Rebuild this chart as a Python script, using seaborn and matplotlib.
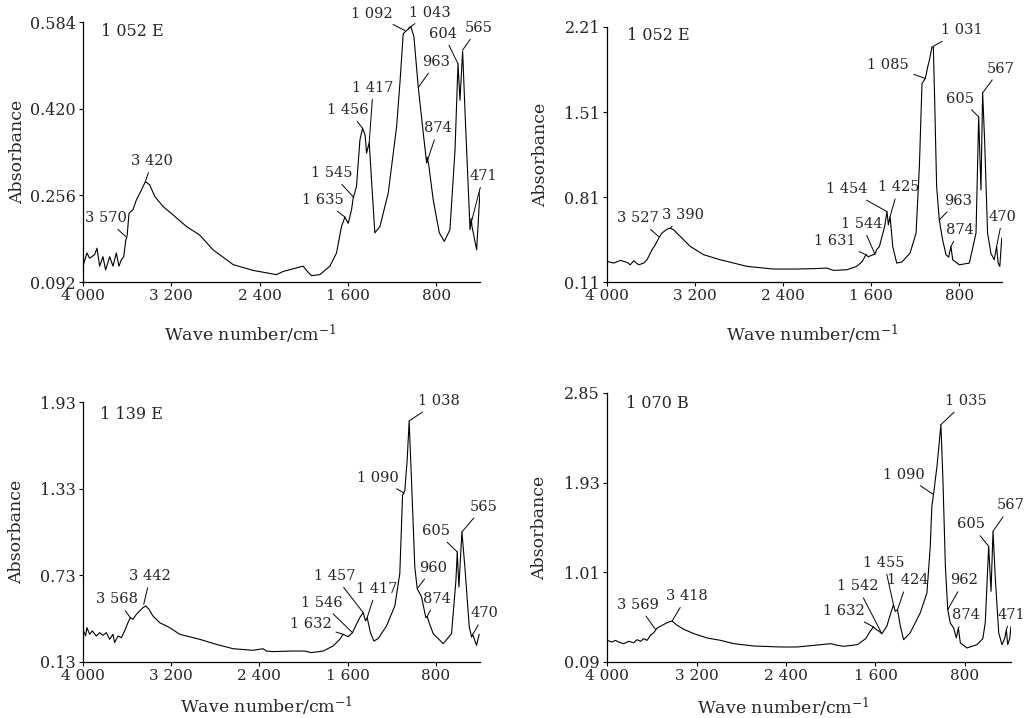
import matplotlib
matplotlib.use("Agg")
import matplotlib.pyplot as plt
import seaborn as sns
import pandas as pd

sns.set_style("ticks")
plt.rcParams['font.family'] = ['DejaVu Serif']
plt.rcParams['mathtext.fontset'] = 'dejavuserif'

# ---- spectra (wave number, absorbance) ----
wn_1 = [4000, 3964, 3940, 3894, 3873, 3849, 3819, 3795, 3758, 3728,
        3698, 3674, 3653, 3631, 3613, 3600, 3583, 3547, 3517, 3471,
        3435, 3396, 3350, 3275, 3184, 3063, 2943, 2822, 2640, 2459,
        2248, 2187, 2097, 2006, 1976, 1931, 1855, 1764, 1704, 1659,
        1628, 1598, 1568, 1553, 1523, 1492, 1468, 1445, 1432, 1408,
        1387, 1357, 1311, 1236, 1160, 1130, 1100, 1070, 1030, 1003,
        964, 918, 888, 882, 870, 828, 773, 728, 677, 631,
        604, 586, 562, 541, 495, 484, 478, 435, 405]
ab_1 = [0.122, 0.147, 0.137, 0.144, 0.156, 0.122, 0.140, 0.115, 0.140, 0.122,
        0.147, 0.122, 0.134, 0.140, 0.170, 0.180, 0.222, 0.229, 0.247, 0.266,
        0.282, 0.276, 0.254, 0.235, 0.219, 0.197, 0.181, 0.153, 0.125, 0.114,
        0.106, 0.112, 0.117, 0.122, 0.114, 0.104, 0.106, 0.122, 0.147, 0.197,
        0.215, 0.203, 0.229, 0.251, 0.273, 0.361, 0.383, 0.370, 0.336, 0.356,
        0.285, 0.185, 0.197, 0.260, 0.386, 0.468, 0.562, 0.568, 0.575, 0.556,
        0.461, 0.373, 0.317, 0.328, 0.315, 0.247, 0.185, 0.169, 0.191, 0.342,
        0.505, 0.436, 0.529, 0.417, 0.191, 0.212, 0.198, 0.153, 0.263]

wn_2 = [4000, 3939, 3879, 3818, 3788, 3758, 3712, 3667, 3637, 3591,
        3561, 3525, 3501, 3455, 3425, 3395, 3334, 3243, 3122, 2971,
        2910, 2729, 2487, 2275, 2123, 2002, 1942, 1821, 1730, 1680,
        1646, 1625, 1595, 1565, 1550, 1524, 1477, 1455, 1443, 1427,
        1403, 1367, 1320, 1246, 1191, 1161, 1137, 1107, 1085, 1070,
        1046, 1034, 1022, 1004, 980, 950, 919, 895, 874, 858,
        797, 707, 646, 622, 601, 586, 568, 541, 511, 481,
        459, 445, 430, 412]
ab_2 = [0.280, 0.266, 0.288, 0.272, 0.252, 0.285, 0.252, 0.266, 0.293, 0.376,
        0.417, 0.480, 0.513, 0.545, 0.554, 0.540, 0.485, 0.403, 0.335, 0.293,
        0.280, 0.239, 0.217, 0.217, 0.220, 0.225, 0.206, 0.211, 0.239, 0.280,
        0.335, 0.318, 0.330, 0.340, 0.375, 0.403, 0.567, 0.690, 0.581, 0.649,
        0.403, 0.266, 0.275, 0.348, 0.513, 1.060, 1.745, 1.786, 1.882, 1.936,
        2.046, 2.046, 1.608, 0.896, 0.622, 0.458, 0.335, 0.315, 0.403, 0.293,
        0.252, 0.266, 0.513, 1.471, 0.868, 1.668, 1.279, 0.513, 0.348, 0.293,
        0.403, 0.266, 0.239, 0.471]

wn_3 = [4000, 3976, 3964, 3940, 3915, 3879, 3849, 3819, 3788, 3758,
        3728, 3713, 3682, 3652, 3622, 3592, 3570, 3546, 3516, 3486,
        3456, 3431, 3401, 3365, 3304, 3214, 3123, 2941, 2790, 2639,
        2457, 2367, 2336, 2276, 2094, 1989, 1928, 1822, 1731, 1671,
        1641, 1595, 1556, 1520, 1490, 1459, 1438, 1423, 1393, 1362,
        1323, 1248, 1172, 1127, 1102, 1081, 1060, 1042,
        1021, 991, 969, 930, 891, 879, 860, 824, 733, 658,
        618, 606, 591, 564, 537, 497, 476, 466, 431, 407]
ab_3 = [0.356, 0.310, 0.368, 0.322, 0.345, 0.310, 0.333, 0.315, 0.333, 0.287,
        0.322, 0.264, 0.310, 0.298, 0.345, 0.402, 0.437, 0.425, 0.460, 0.483,
        0.506, 0.518, 0.495, 0.448, 0.402, 0.368, 0.322, 0.287, 0.252, 0.222,
        0.211, 0.222, 0.206, 0.202, 0.206, 0.206, 0.195, 0.206, 0.241, 0.287,
        0.322, 0.305, 0.333, 0.391, 0.437, 0.472, 0.414, 0.437, 0.333, 0.275,
        0.292, 0.379, 0.518, 0.742, 1.284, 1.318, 1.533, 1.799,
        1.388, 0.788, 0.638, 0.580, 0.437, 0.445, 0.400, 0.326, 0.257, 0.326,
        0.695, 0.892, 0.649, 1.030, 0.788, 0.372, 0.303, 0.320, 0.245, 0.322]

wn_4 = [4000, 3955, 3925, 3896, 3851, 3806, 3761, 3731, 3701, 3672,
        3642, 3612, 3582, 3552, 3507, 3463, 3418, 3373, 3313, 3224,
        3104, 2985, 2866, 2687, 2448, 2299, 2149, 2000, 1940, 1881,
        1761, 1687, 1650, 1618, 1590, 1573, 1543, 1499, 1463, 1439,
        1424, 1403, 1379, 1349, 1290, 1200, 1140, 1110, 1096, 1081,
        1050, 1015, 997, 975, 954, 931, 901, 877, 859, 841,
        782, 693, 640, 618, 588, 567, 549, 528, 498, 469,
        445, 430, 418, 400, 388]
ab_4 = [0.312, 0.295, 0.312, 0.295, 0.278, 0.302, 0.288, 0.319, 0.302, 0.329,
        0.312, 0.364, 0.391, 0.439, 0.466, 0.494, 0.511, 0.466, 0.425, 0.381,
        0.336, 0.312, 0.278, 0.254, 0.244, 0.244, 0.261, 0.278, 0.261, 0.251,
        0.268, 0.330, 0.400, 0.450, 0.420, 0.410, 0.380, 0.456, 0.593, 0.678,
        0.610, 0.627, 0.466, 0.319, 0.388, 0.593, 0.798, 1.277, 1.687, 1.807,
        2.100, 2.525, 1.961, 1.071, 0.627, 0.490, 0.439, 0.336, 0.439, 0.285,
        0.234, 0.268, 0.330, 0.500, 1.277, 0.815, 1.431, 0.935, 0.388, 0.268,
        0.330, 0.420, 0.268, 0.330, 0.456]

samples = ["1 052 E", "1 052 E", "1 139 E", "1 070 B"]
yticks_all = [[0.092, 0.256, 0.420, 0.584],
              [0.11, 0.81, 1.51, 2.21],
              [0.13, 0.73, 1.33, 1.93],
              [0.09, 1.01, 1.93, 2.85]]
ytick_fmt = ["{:.3f}", "{:.2f}", "{:.2f}", "{:.2f}"]
xticks = [4000, 3200, 2400, 1600, 800]
xtick_labels = ["4 000", "3 200", "2 400", "1 600", "800"]

# peak labels: (label, peak wn, peak A, text wn, text A)
peaks_1 = [("3 570", 3613, 0.178, 3795, 0.213), ("3 420", 3435, 0.282, 3372, 0.321),
           ("1 635", 1628, 0.215, 1825, 0.247), ("1 545", 1547, 0.252, 1749, 0.298),
           ("1 456", 1468, 0.383, 1598, 0.417), ("1 417", 1408, 0.356, 1372, 0.460),
           ("1 092", 1085, 0.568, 1387, 0.600), ("1 043", 1054, 0.572, 858, 0.602),
           ("963", 964, 0.460, 798, 0.509), ("874", 879, 0.323, 783, 0.383),
           ("604", 604, 0.505, 737, 0.562), ("565", 562, 0.531, 420, 0.573),
           ("471", 481, 0.207, 375, 0.293)]
peaks_2 = [("3 527", 3525, 0.480, 3721, 0.636), ("3 390", 3425, 0.554, 3310, 0.663),
           ("1 631", 1646, 0.335, 1927, 0.450), ("1 544", 1565, 0.340, 1685, 0.589),
           ("1 454", 1455, 0.690, 1821, 0.874), ("1 425", 1427, 0.649, 1352, 0.890),
           ("1 085", 1107, 1.786, 1443, 1.895), ("1 031", 1036, 2.050, 777, 2.183),
           ("963", 980, 0.622, 807, 0.781), ("874", 874, 0.403, 792, 0.540),
           ("605", 622, 1.471, 792, 1.621), ("567", 586, 1.668, 422, 1.868),
           ("470", 459, 0.403, 404, 0.649)]
peaks_3 = [("3 568", 3570, 0.437, 3691, 0.564), ("3 442", 3449, 0.529, 3389, 0.725),
           ("1 632", 1641, 0.322, 1937, 0.391), ("1 546", 1556, 0.333, 1837, 0.541),
           ("1 457", 1459, 0.472, 1716, 0.725), ("1 417", 1423, 0.437, 1338, 0.638),
           ("1 090", 1090, 1.300, 1323, 1.406), ("1 038", 1042, 1.799, 770, 1.937),
           ("960", 969, 0.638, 824, 0.783), ("874", 879, 0.445, 794, 0.568),
           ("605", 606, 0.892, 803, 1.037), ("565", 564, 1.030, 370, 1.205),
           ("470", 466, 0.320, 355, 0.467)]
peaks_4 = [("3 569", 3567, 0.425, 3725, 0.678), ("3 418", 3418, 0.511, 3284, 0.767),
           ("1 632", 1618, 0.450, 1881, 0.613), ("1 542", 1543, 0.380, 1761, 0.866),
           ("1 455", 1439, 0.678, 1522, 1.109), ("1 424", 1403, 0.627, 1313, 0.928),
           ("1 090", 1081, 1.807, 1343, 2.012), ("1 035", 1015, 2.525, 791, 2.768),
           ("962", 954, 0.627, 806, 0.928), ("874", 859, 0.439, 791, 0.569),
           ("605", 588, 1.277, 746, 1.502), ("567", 549, 1.431, 388, 1.697),
           ("471", 430, 0.420, 388, 0.576)]

spectra = [(wn_1, ab_1), (wn_2, ab_2), (wn_3, ab_3), (wn_4, ab_4)]
peaks = [peaks_1, peaks_2, peaks_3, peaks_4]

# layout (figure fractions) and x limits per panel
rects = [[0.0807, 0.6072, 0.3862, 0.3621],
         [0.5905, 0.6072, 0.3842, 0.3552],
         [0.0807, 0.0780, 0.3862, 0.3621],
         [0.5905, 0.0780, 0.3930, 0.3747]]
xright = [405, 410, 400, 388]
xlab_pos = [(0.423, -0.155), (0.519, -0.16), (0.463, -0.128), (0.436, -0.124)]
ylab_x = [-0.144, -0.147, -0.146, -0.146]
name_pos = [(0.046, 0.962), (0.051, 0.967), (0.042, 0.953), (0.048, 0.960)]

fig = plt.figure(figsize=(10.28, 7.18), dpi=100)

for i in range(4):
    ax = fig.add_axes(rects[i])
    df = pd.DataFrame({"wn": spectra[i][0], "A": spectra[i][1]})
    sns.lineplot(data=df, x="wn", y="A", ax=ax, color="black", lw=0.8,
                 sort=False, estimator=None)
    yt = yticks_all[i]
    ax.set_xlim(4000, xright[i])
    ax.set_ylim(yt[0], yt[-1])
    ax.set_xticks(xticks)
    ax.set_xticklabels(xtick_labels, fontsize=11)
    ax.set_yticks(yt)
    ax.set_yticklabels([ytick_fmt[i].format(v) for v in yt], fontsize=11.5)
    ax.tick_params(direction="out", length=3, width=0.8, pad=2, color="black")
    sns.despine(ax=ax)
    for s in ["left", "bottom"]:
        ax.spines[s].set_linewidth(0.9)
        ax.spines[s].set_color("black")
    ax.set_xlabel("Wave number/cm$^{-1}$", fontsize=12.5)
    ax.set_ylabel("Absorbance", fontsize=12.5)
    ax.xaxis.set_label_coords(*xlab_pos[i])
    ax.yaxis.set_label_coords(ylab_x[i], 0.5)
    ax.text(name_pos[i][0], name_pos[i][1], samples[i], transform=ax.transAxes,
            ha="left", va="center", fontsize=11.5)
    for lab, px, py, tx, ty in peaks[i]:
        ax.annotate(lab, xy=(px, py), xytext=(tx, ty), ha="center", va="center",
                    fontsize=10.5,
                    arrowprops=dict(arrowstyle="-", lw=0.7, color="black",
                                    shrinkA=1, shrinkB=0))

fig.savefig("out.png", dpi=100)
